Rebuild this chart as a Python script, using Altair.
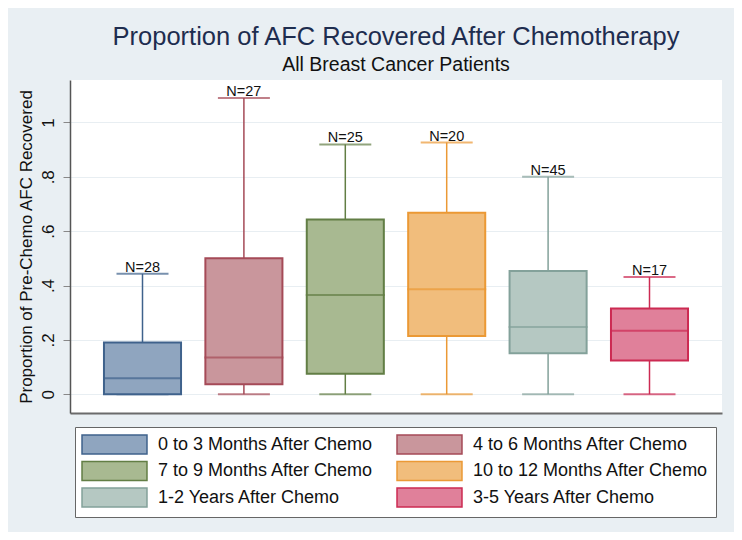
import altair as alt
import pandas as pd

groups = ["0 to 3 Months After Chemo", "4 to 6 Months After Chemo",
          "7 to 9 Months After Chemo", "10 to 12 Months After Chemo",
          "1-2 Years After Chemo", "3-5 Years After Chemo"]
n_labels = ["N=28", "N=27", "N=25", "N=20", "N=45", "N=17"]
lower = [0.0, 0.0, 0.0, 0.0, 0.0, 0.0]
q1 = [0.0, 0.037, 0.075, 0.214, 0.151, 0.124]
median = [0.059, 0.135, 0.365, 0.386, 0.247, 0.234]
q3 = [0.19, 0.50, 0.643, 0.668, 0.453, 0.315]
upper = [0.443, 1.09, 0.919, 0.926, 0.80, 0.431]

fills = ["#8fa5bf", "#c9969c", "#a8b991", "#f1bd7c", "#b5c8c2", "#e0809a"]
strokes = ["#3f628c", "#a54a57", "#627e45", "#eb9935", "#83a19a", "#cc2a52"]

df = pd.DataFrame({"group": groups, "n": n_labels, "lower": lower, "q1": q1,
                   "median": median, "q3": q3, "upper": upper})

FONT = "Liberation Sans"

x = alt.X("group:N", sort=groups,
          scale=alt.Scale(paddingInner=0.24, paddingOuter=0.335),
          axis=alt.Axis(title=None, labels=False, ticks=False, domainColor="#6b6b6b",
                        domainWidth=2, grid=False))
yscale = alt.Scale(domain=[-0.069, 1.156], nice=False, zero=False)
y_axis = alt.Axis(values=[0, 0.2, 0.4, 0.6, 0.8, 1.0],
                  labelExpr="datum.value == 0 ? '0' : datum.value == 1 ? '1' : substring(format(datum.value, '.1f'), 1)",
                  labelAngle=270, labelFontSize=17, labelFont=FONT, labelColor="#111",
                  labelPadding=6, tickSize=7, tickColor="#888", domainColor="#555",
                  domainWidth=1.5, gridColor="#e8eef2", gridWidth=1,
                  title="Proportion of Pre-Chemo AFC Recovered", titleFont=FONT,
                  titleFontSize=17, titleFontWeight="normal", titleColor="#111",
                  titlePadding=4)

legend = alt.Legend(title=None, orient="none", legendX=5, legendY=347, columns=2,
                    direction="horizontal",
                    symbolType="M-3.42,-1H3.42V1H-3.42Z", symbolSize=361,
                    symbolOffset=22, symbolStrokeWidth=1.5, symbolOpacity=1,
                    labelFont=FONT, labelFontSize=18, labelColor="#111", labelOffset=33,
                    labelLimit=400, columnPadding=20, rowPadding=1.5, padding=7,
                    strokeColor="#666", fillColor="white")

fill_enc = alt.Fill("group:N", sort=groups, scale=alt.Scale(domain=groups, range=fills), legend=legend)
stroke_enc = alt.Stroke("group:N", sort=groups, scale=alt.Scale(domain=groups, range=strokes), legend=legend)

base = alt.Chart(df)

whisker = base.mark_rule(strokeWidth=1.5).encode(
    x=x, y=alt.Y("lower:Q", scale=yscale, axis=y_axis), y2="upper:Q", stroke=stroke_enc)
caps_top = base.mark_tick(size=50, thickness=0.01, filled=False, strokeWidth=2).encode(
    x=x, y=alt.Y("upper:Q", scale=yscale), stroke=stroke_enc)
caps_bot = base.mark_tick(size=50, thickness=0.01, filled=False, strokeWidth=2).encode(
    x=x, y=alt.Y("lower:Q", scale=yscale), stroke=stroke_enc)
box = base.mark_bar(strokeWidth=2).encode(
    x=x, y=alt.Y("q1:Q", scale=yscale), y2="q3:Q", fill=fill_enc, stroke=stroke_enc)
med = base.mark_tick(size=77, thickness=0.01, filled=False, strokeWidth=2).encode(
    x=x, y=alt.Y("median:Q", scale=yscale), stroke=stroke_enc)
labels = base.mark_text(baseline="alphabetic", dy=-2, fontSize=14.5, font=FONT, color="#111").encode(
    x=x, y=alt.Y("upper:Q", scale=yscale), text="n:N")

chart = alt.layer(whisker, caps_top, caps_bot, box, med, labels).properties(
    width=652, height=333,
    autosize=alt.AutoSizeParams(type="none"),
    padding={"left": 62, "top": 72, "right": 12, "bottom": 119},
    background="#e9eff3",
    title=alt.TitleParams(text="Proportion of AFC Recovered After Chemotherapy",
                          subtitle="All Breast Cancer Patients",
                          font=FONT, fontSize=25.5, fontWeight="normal", color="#1e2d4f",
                          subtitleFont=FONT, subtitleFontSize=19.5, subtitleColor="#111",
                          subtitlePadding=5, anchor="middle", offset=6),
).configure_view(fill="white", stroke=None)

chart.save("out.html", embed_options={"renderer": "svg", "actions": False})
